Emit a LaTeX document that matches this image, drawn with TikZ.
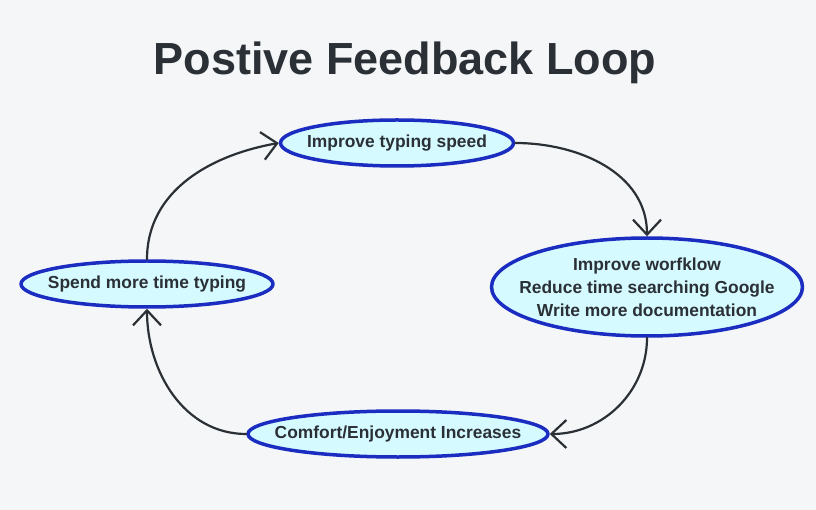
\documentclass[tikz,border=0pt]{standalone}
\usepackage{fontspec}
\setmainfont{Liberation Sans}
\usetikzlibrary{arrows.meta,shapes.geometric}
\definecolor{bgcol}{HTML}{F4F6F7}
\definecolor{ringcol}{HTML}{1B2CC1}
\definecolor{fillcol}{HTML}{D5FAFF}
\definecolor{inkcol}{HTML}{2A3035}
\tikzset{
  loopnode/.style={ellipse, draw=ringcol, line width=3.5pt, fill=fillcol, inner xsep=-25pt, inner ysep=0pt,
    text=inkcol, font=\fontsize{17.4}{23}\selectfont\bfseries, align=center},
  loopedge/.style={draw=inkcol, line width=2.2pt, -{Straight Barb[length=15pt,width=28pt,line width=2.2pt]}}
}
\begin{document}
\begin{tikzpicture}[x=1pt, y=-1pt, line join=round, line cap=round]
  \fill[bgcol] (0,0) rectangle (816,510);
  \useasboundingbox (0,0) rectangle (816,510);
  \node[text=inkcol, font=\fontsize{45}{50}\selectfont\bfseries] (title) at (405,63) {Postive Feedback Loop};
  \path
  (397,143) node[loopnode, minimum width=233pt, minimum height=46pt] (speed) {Improve typing speed}
  (647,287) node[loopnode, minimum width=311pt, minimum height=98pt] (flow) {Improve worfklow\\Reduce time searching Google\\Write more documentation}
  (398,434) node[loopnode, minimum width=300pt, minimum height=46pt] (comfort) {Comfort/Enjoyment Increases}
  (147,284) node[loopnode, minimum width=252pt, minimum height=46pt] (spend) {Spend more time typing}
  ;
  \draw[loopedge] (spend.north) to[out=90, in=190] (speed.west);
  \draw[loopedge] (speed.east) to[out=0, in=90] (flow.north);
  \draw[loopedge] (flow.south) to[out=-90, in=0] (comfort.east);
  \draw[loopedge] (comfort.west) to[out=180, in=-90] (spend.south);
\end{tikzpicture}
\end{document}
